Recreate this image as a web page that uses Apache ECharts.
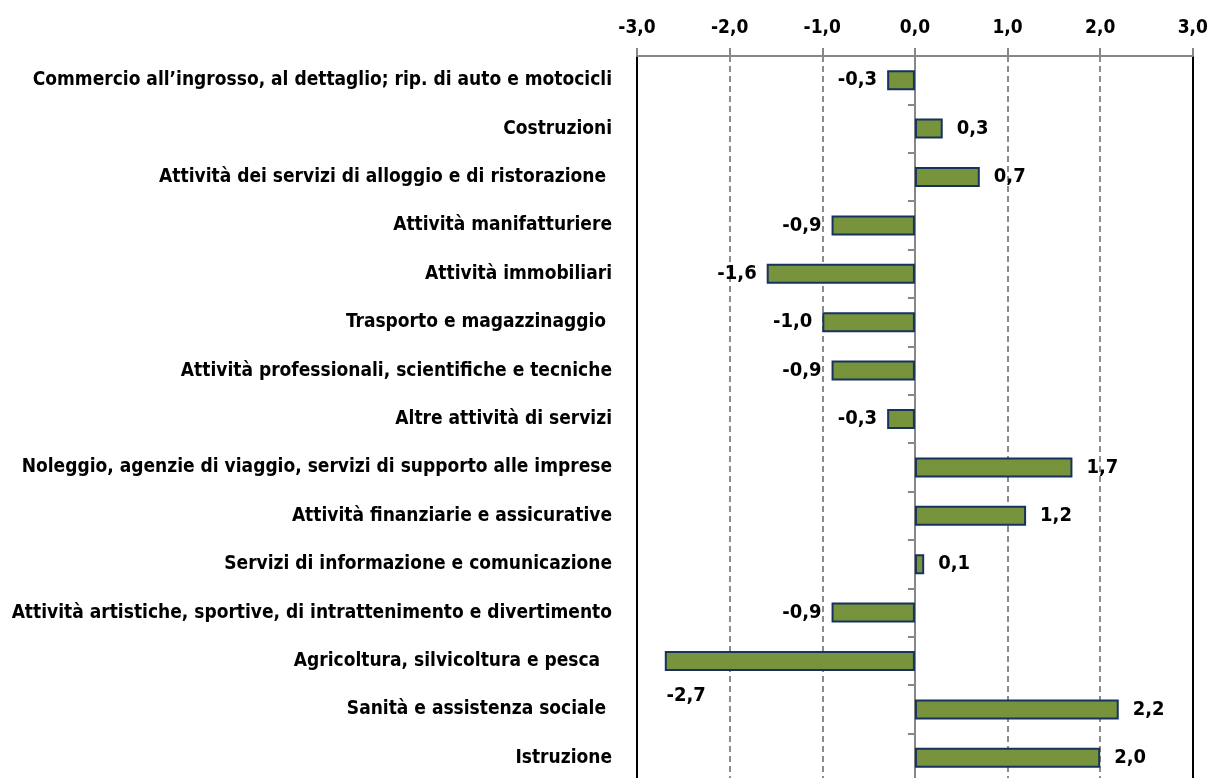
<!DOCTYPE html>
<html>
<head>
<meta charset="utf-8">
<script src="https://cdn.jsdelivr.net/npm/echarts@6/dist/echarts.min.js"></script>
<style>
html, body { margin: 0; padding: 0; background: #fff; overflow: hidden; }
#chart { width: 1211px; height: 790px; }
</style>
</head>
<body>
<div id="chart"></div>
<script>
// settori, dall'alto verso il basso
var categories = [
    'Commercio all\u2019ingrosso, al dettaglio; rip. di auto e motocicli',
    'Costruzioni',
    'Attività dei servizi di alloggio e di ristorazione ',
    'Attività manifatturiere',
    'Attività immobiliari',
    'Trasporto e magazzinaggio ',
    'Attività professionali, scientifiche e tecniche',
    'Altre attività di servizi',
    'Noleggio, agenzie di viaggio, servizi di supporto alle imprese',
    'Attività finanziarie e assicurative',
    'Servizi di informazione e comunicazione',
    'Attività artistiche, sportive, di intrattenimento e divertimento',
    'Agricoltura, silvicoltura e pesca  ',
    'Sanità e assistenza sociale ',
    'Istruzione'
];
var values = [-0.3, 0.3, 0.7, -0.9, -1.6, -1.0, -0.9, -0.3, 1.7, 1.2, 0.1, -0.9, -2.7, 2.2, 2.0];
var xTicks = [-3, -2, -1, 0, 1, 2, 3];

var FONT = '"Liberation Sans Narrow", "DejaVu Sans Condensed", sans-serif';
var fmt = function (v) { return Number(v).toFixed(1).replace('.', ','); };

var chart = echarts.init(document.getElementById('chart'));

var barData = values.map(function (v, i) {
    var lbl = { position: v < 0 ? 'left' : 'right', distance: v < 0 ? 10 : 14 };
    if (i === 12) {
        // etichetta spostata sotto la barra, come nell'originale
        lbl = { position: 'left', distance: 5, offset: [46, 35] };
    }
    return { value: v, label: lbl };
});

var option = {
    animation: false,
    backgroundColor: '#fff',
    grid: { left: 637, right: 17, top: 56, height: 726 },
    xAxis: {
        type: 'value',
        position: 'top',
        min: xTicks[0],
        max: xTicks[xTicks.length - 1],
        interval: 1,
        axisLine: { show: true, lineStyle: { color: '#878787', width: 2 } },
        axisTick: { show: true, length: 8, lineStyle: { color: '#878787', width: 2 } },
        axisLabel: {
            margin: 18,
            formatter: fmt,
            fontFamily: FONT, fontSize: 19, fontWeight: 'bold', color: '#000'
        },
        splitLine: { show: true, lineStyle: { color: '#8c8c8c', width: 2, type: [6, 4] } }
    },
    yAxis: [
        {
            type: 'category',
            inverse: true,
            data: categories,
            position: 'left',
            axisLine: { show: true, onZero: false, lineStyle: { color: '#000', width: 2 } },
            axisTick: { show: false },
            axisLabel: {
                margin: 25,
                fontFamily: FONT, fontSize: 19, fontWeight: 'bold', color: '#000'
            }
        },
        {
            type: 'category',
            inverse: true,
            data: categories,
            position: 'left',
            axisLine: { show: true, onZero: true, lineStyle: { color: '#878787', width: 2 } },
            axisTick: { show: true, length: 7, lineStyle: { color: '#878787', width: 2 } },
            axisLabel: { show: false }
        },
        {
            type: 'category',
            inverse: true,
            data: categories,
            position: 'right',
            axisLine: { show: true, onZero: false, lineStyle: { color: '#000', width: 2 } },
            axisTick: { show: false },
            axisLabel: { show: false }
        }
    ],
    series: [
        {
            type: 'bar',
            yAxisIndex: 0,
            barWidth: 20,
            data: barData,
            itemStyle: { color: '#77933C', borderColor: '#17325E', borderWidth: 2 },
            label: {
                show: true,
                formatter: function (p) { return fmt(p.value); },
                fontFamily: FONT, fontSize: 20, fontWeight: 'bold', color: '#000'
            }
        }
    ]
};

chart.setOption(option);
</script>
</body>
</html>
